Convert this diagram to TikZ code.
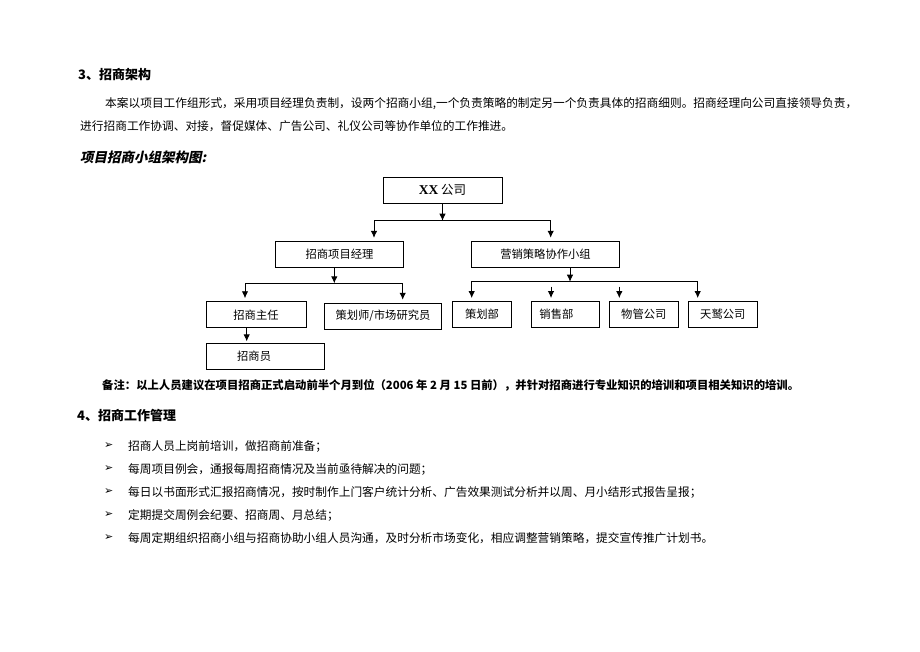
\documentclass[tikz,border=0pt]{standalone}
\usepackage{fontspec}
\setmainfont{Noto Sans CJK SC}
\newfontfamily\slcjk[FakeSlant=0.2]{Noto Sans CJK SC}
\newfontfamily\dejavu{DejaVu Sans}
\newfontfamily\serifx{Liberation Serif}
\usetikzlibrary{arrows.meta}

\newcommand{\bodyfont}{\fontsize{11.7pt}{14pt}\selectfont}
\newcommand{\headfont}{\fontsize{13pt}{16pt}\selectfont\bfseries}
\newcommand{\boxfont}{\fontsize{11.3pt}{14pt}\selectfont}
\newcommand{\bulletfont}{\dejavu\fontsize{11pt}{12pt}\selectfont}

\tikzset{
  box/.style={draw, line width=0.9pt, minimum height=26pt, inner sep=0pt, font=\boxfont},
  lbox/.style n args={2}{box, anchor=west, align=left, inner xsep=#1, text width=#2},
  wire/.style={line width=0.9pt},
  arr/.style={wire, -{Latex[length=7pt,width=6.5pt]}, shorten >=3pt},
  txt/.style={anchor=west, inner sep=0pt, font=\bodyfont},
  heading/.style={anchor=west, inner sep=0pt, font=\headfont},
  mark sign/.style={anchor=west, inner sep=0pt, font=\bulletfont},
}

\begin{document}
\begin{tikzpicture}[x=1pt,y=-1pt]
\useasboundingbox (0,0) rectangle (920,651);
\fill[white] (0,0) rectangle (920,651);

% text above the chart
\node[heading] (h3) at (78,75) {3、招商架构};
\node[txt] (p1) at (105,104) {本案以项目工作组形式，采用项目经理负责制，设两个招商小组,一个负责策略的制定另一个负责具体的招商细则。招商经理向公司直接领导负责，};
\node[txt] (p2) at (80,126) {进行招商工作协调、对接，督促媒体、广告公司、礼仪公司等协作单位的工作推进。};
\node[heading, font={\slcjk\fontsize{13.5pt}{16pt}\selectfont\bfseries}] (cap) at (80,157) {项目招商小组架构图:};

% chart boxes
\node[box, minimum width=119pt, font=\fontsize{12.5pt}{14pt}\selectfont] (xx) at (442.5,190.2) {{\serifx\bfseries\fontsize{13.5pt}{14pt}\selectfont XX} 公司};
\node[box, minimum width=127.6pt] (mgr) at (339.5,254.3) {招商项目经理};
\node[box, minimum width=147.6pt] (grp) at (545.5,254.2) {营销策略协作小组};
\node[box, minimum width=100pt] (dir) at (256,314.7) {招商主任};
\node[box, minimum width=117.4pt] (plan) at (383,316.2) {策划师/市场研究员};
\node[lbox={30.7pt}{56.9pt}] (staff) at (206,356.3) {招商员};
\node[box, minimum width=59.4pt] (d1) at (482,314.5) {策划部};
\node[lbox={8pt}{52.3pt}] (d2) at (531,314.5) {销售部};
\node[box, minimum width=69pt] (d3) at (643.8,314.5) {物管公司};
\node[box, minimum width=69pt] (d4) at (722.8,314.5) {天鹫公司};

% branch points
\coordinate (j1l) at (374,220.7);
\coordinate (j1r) at (550.7,220.7);
\coordinate (j2l) at (245,283.3);
\coordinate (j2r) at (402.7,283.3);
\coordinate (j3l) at (471.7,281.7);
\coordinate (j3r) at (697.7,281.7);
\coordinate (s2) at (551,286.7);
\coordinate (s3) at (619.3,286.7);

% connectors
\draw[arr, shorten >=0pt] (xx.south) -- (xx.south |- j1l);
\draw[arr] (j1r) -- (j1l) -- (j1l |- mgr.north);
\draw[arr] (j1r) -- (j1r |- grp.north);
\draw[arr, shorten >=0pt] ([xshift=-5.2pt]mgr.south) -- ([xshift=-5.2pt]mgr.south |- j2l);
\draw[arr] (j2r) -- (j2l) -- (j2l |- dir.north);
\draw[arr] (j2r) -- (j2r |- plan.north);
\draw[arr, shorten >=1.5pt] ([xshift=-9.3pt]dir.south) -- ([xshift=-9.3pt]dir.south |- staff.north);
\draw[arr, shorten >=0pt] ([xshift=24.5pt]grp.south) -- ([xshift=24.5pt]grp.south |- j3l);
\draw[arr] (j3r) -- (j3l) -- (j3l |- d1.north);
\draw[arr] (j3r) -- (j3r |- d4.north);
\draw[arr] (s2) -- (s2 |- d2.north);
\draw[arr] (s3) -- (s3 |- d3.north);

% note and section 4
\node[txt, font=\fontsize{11.35pt}{14pt}\selectfont\bfseries] (note) at (102,385) {备注：以上人员建议在项目招商正式启动前半个月到位（2006 年 2 月 15 日前），并针对招商进行专业知识的培训和项目相关知识的培训。};
\node[heading] (h4) at (77,415) {4、招商工作管理};

\node[mark sign] (b1) at (104,446) {➢};
\node[txt] (t1) at (128,446) {招商人员上岗前培训，做招商前准备；};
\node[mark sign] (b2) at (104,469) {➢};
\node[txt] (t2) at (128,469) {每周项目例会，通报每周招商情况及当前亟待解决的问题；};
\node[mark sign] (b3) at (104,492) {➢};
\node[txt] (t3) at (128,492) {每日以书面形式汇报招商情况，按时制作上门客户统计分析、广告效果测试分析并以周、月小结形式报告呈报；};
\node[mark sign] (b4) at (104,515) {➢};
\node[txt] (t4) at (128,515) {定期提交周例会纪要、招商周、月总结；};
\node[mark sign] (b5) at (104,538) {➢};
\node[txt] (t5) at (128,538) {每周定期组织招商小组与招商协助小组人员沟通，及时分析市场变化，相应调整营销策略，提交宣传推广计划书。};
\end{tikzpicture}
\end{document}
